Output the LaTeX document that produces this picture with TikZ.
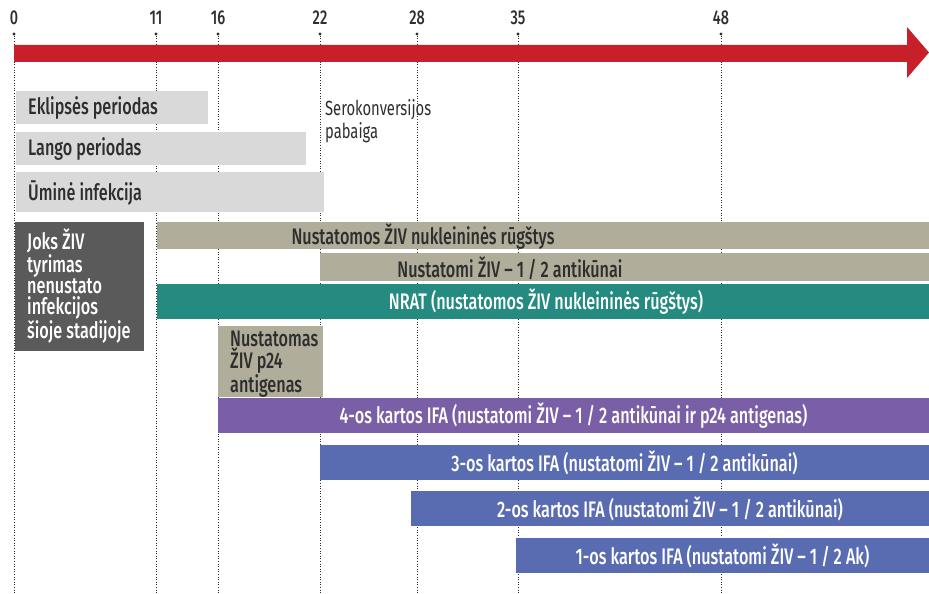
\documentclass[tikz,border=0pt]{standalone}
\usepackage{fontspec}
\setmainfont{Fira Sans}[FakeStretch=0.72, BoldFont={Fira Sans Medium}]
\definecolor{axisred}{HTML}{C8202A}
\definecolor{lightbar}{HTML}{D9D9D9}
\definecolor{darkbar}{HTML}{5A5A5A}
\definecolor{tanbar}{HTML}{B0AD9A}
\definecolor{tealbar}{HTML}{258A7F}
\definecolor{purplebar}{HTML}{7A5FA6}
\definecolor{bluebar}{HTML}{5A6CB1}
\definecolor{inktext}{HTML}{2E2E2E}
\tikzset{
    ticklabel/.style = {
        font=\bfseries\fontsize{20}{22}\selectfont,
        text=inktext,
        inner sep=0pt
    },
    tickdot/.style = {
        circle,
        fill=inktext,
        minimum size=3.2pt,
        inner sep=0pt
    },
    guide/.style = {
        draw=inktext,
        line width=0.9pt,
        dash pattern=on 1pt off 1.6pt
    },
    barbox/.style = {
        rectangle,
        anchor=north west,
        inner sep=0pt,
        outer sep=0pt
    },
    bartext/.style = {
        font=\bfseries\fontsize{22.5}{21}\selectfont,
        text=inktext,
        inner sep=0pt
    },
    lighttext/.style = {
        bartext,
        text=white
    }
}
\begin{document}
\begin{tikzpicture}[x=1pt, y=-1pt]
    \useasboundingbox (0,0) rectangle (929,594);
    % time axis
    \foreach \d/\x in {0/14, 11/156, 16/218, 22/320, 28/417, 35/518, 48/721} {
        \node [ticklabel] (t\d) at (\x,18) {\d};
        \node [tickdot] (d\d) at (\x,34) {};
        \coordinate (e\d) at (\x,594);
        \draw [guide] (d\d) -- (e\d);
    }
    \fill [axisred] (14,45) -- (907,45) -- (907,27) -- (929,52.5)
        -- (907,78) -- (907,62) -- (14,62) -- cycle;
    % stages
    \node [barbox, fill=lightbar, minimum width=192pt, minimum height=33pt] (eclipse) at (16,91) {};
    \node [barbox, fill=lightbar, minimum width=290pt, minimum height=33pt] (window) at (16,132) {};
    \node [barbox, fill=lightbar, minimum width=308pt, minimum height=40pt] (acute) at (16,172) {};
    \node [bartext, anchor=west] (eclipsetext) at (28,108) {Eklipsės periodas};
    \node [bartext, anchor=west] (windowtext) at (28,149) {Lango periodas};
    \node [bartext, anchor=west] (acutetext) at (28,193) {Ūminė infekcija};
    \node [bartext, font=\fontsize{20.5}{23}\selectfont, anchor=west, align=left] (seroend) at (325,121) {Serokonversijos\\pabaiga};
    % tests
    \node [barbox, fill=darkbar, minimum width=129pt, minimum height=129pt] (nodetect) at (15,222) {};
    \node [lighttext, anchor=west, align=left] (nodetecttext) at (27,286) {Joks ŽIV\\tyrimas\\nenustato\\infekcijos\\šioje stadijoje};
    \node [barbox, fill=tanbar, minimum width=772pt, minimum height=27pt] (nucleic) at (157,222) {};
    \node [bartext] (nucleictext) at (423,237) {Nustatomos ŽIV nukleininės rūgštys};
    \node [barbox, fill=tanbar, minimum width=609pt, minimum height=28pt] (antibody) at (320,253) {};
    \node [bartext] (antibodytext) at (510,268) {Nustatomi ŽIV – 1 / 2 antikūnai};
    \node [barbox, fill=tealbar, minimum width=772pt, minimum height=35pt] (nrat) at (157,284) {};
    \node [lighttext] (nrattext) at (546,302) {NRAT (nustatomos ŽIV nukleininės rūgštys)};
    \node [barbox, fill=tanbar, minimum width=105pt, minimum height=71pt] (p24) at (218,326) {};
    \node [bartext, anchor=west, align=left] (p24text) at (230,364) {Nustatomas\\ŽIV p24\\antigenas};
    \node [barbox, fill=purplebar, minimum width=711pt, minimum height=35pt] (ifafour) at (218,398) {};
    \node [lighttext] (ifafourtext) at (ifafour.center) {4-os kartos IFA (nustatomi ŽIV – 1 / 2 antikūnai ir p24 antigenas)};
    \node [barbox, fill=bluebar, minimum width=609pt, minimum height=35pt] (ifathree) at (320,445) {};
    \node [lighttext] (ifathreetext) at (ifathree.center) {3-os kartos IFA (nustatomi ŽIV – 1 / 2 antikūnai)};
    \node [barbox, fill=bluebar, minimum width=518pt, minimum height=35pt] (ifatwo) at (411,491) {};
    \node [lighttext] (ifatwotext) at (ifatwo.center) {2-os kartos IFA (nustatomi ŽIV – 1 / 2 antikūnai)};
    \node [barbox, fill=bluebar, minimum width=413pt, minimum height=35pt] (ifaone) at (516,538) {};
    \node [lighttext] (ifaonetext) at (ifaone.center) {1-os kartos IFA (nustatomi ŽIV – 1 / 2 Ak)};
\end{tikzpicture}
\end{document}
